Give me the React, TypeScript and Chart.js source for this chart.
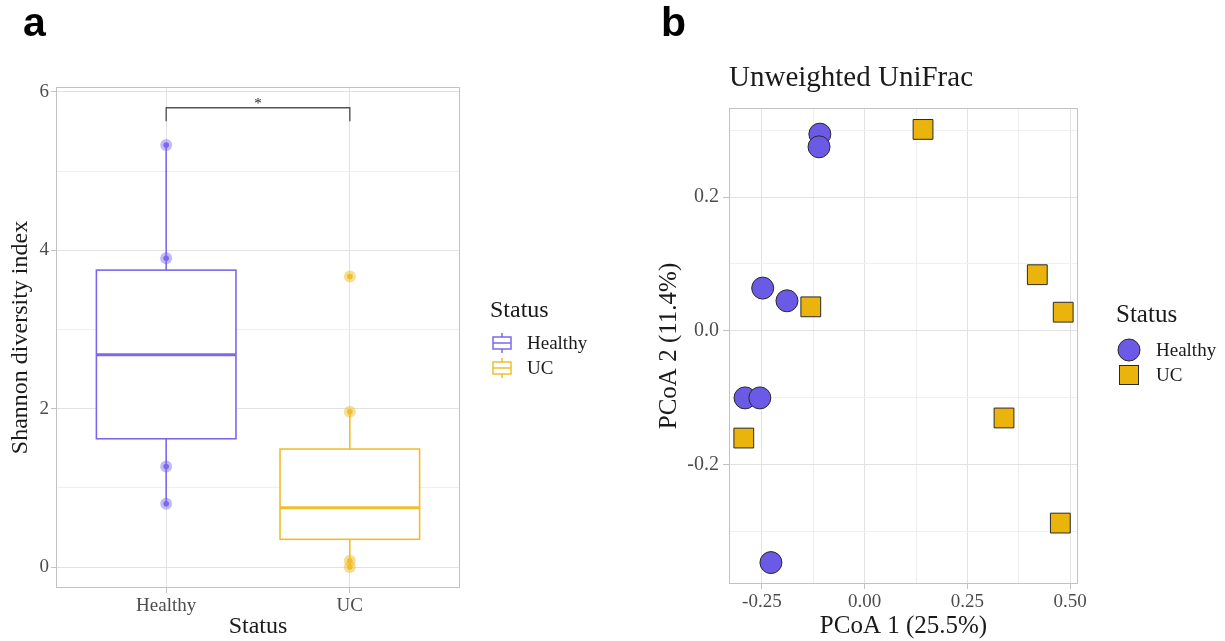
import React, { useEffect, useRef } from 'react';
import { Chart, registerables } from 'chart.js';

Chart.register(...registerables);

const SERIF = "'Liberation Serif', 'Times New Roman', serif";
const SANS = "'Liberation Sans', Arial, sans-serif";

// Panel a: Shannon diversity per group
const groups = ['Healthy', 'UC'];
const healthyShannon = [5.33, 3.9, 1.27, 0.8];
const ucShannon = [3.67, 1.96, 0.08, 0.0];
const whiskerLow = [0.8, 0.0];
const quartile1 = [1.62, 0.35];
const medians = [2.68, 0.75];
const quartile3 = [3.75, 1.49];
const whiskerHigh = [5.33, 1.96];
const shannonTicks = [0, 1, 2, 3, 4, 5, 6];
const bracketLevel = [5.8];
const bracketFoot = [5.63];
const significance = ['*'];

// Panel b: PCoA ordination (unweighted UniFrac)
const healthyPc1 = [-0.109, -0.111, -0.248, -0.189, -0.291, -0.255, -0.228];
const healthyPc2 = [0.294, 0.275, 0.064, 0.045, -0.1, -0.1, -0.346];
const ucPc1 = [0.142, 0.42, 0.483, -0.131, -0.294, 0.339, 0.476];
const ucPc2 = [0.301, 0.084, 0.028, 0.036, -0.16, -0.13, -0.287];
const pc1Ticks = [-0.25, -0.125, 0, 0.125, 0.25, 0.375, 0.5];
const pc2Ticks = [-0.3, -0.2, -0.1, 0, 0.1, 0.2, 0.3];

const boxColors = ['#7B68EE', '#F0BE2C'];
const haloColors = ['rgba(123,104,238,0.45)', 'rgba(240,190,44,0.5)'];
const fillColors = ['#6A5AE6', '#EBB40C'];
const GRID_MAJOR = '#e2e2e2';
const GRID_MINOR = '#efefef';
const BORDER = '#c2c2c2';
const TICK_TEXT = '#4d4d4d';

const isMajorEven = (v: number) => Math.abs(v % 2) < 1e-9;
const isMajorQuarter = (v: number) => Math.abs(v * 4 - Math.round(v * 4)) < 1e-6;
const isMajorFifth = (v: number) => Math.abs(v * 5 - Math.round(v * 5)) < 1e-6;

function drawBorder(chart: any) {
  const { ctx, chartArea: a } = chart;
  ctx.save();
  ctx.strokeStyle = BORDER;
  ctx.lineWidth = 1;
  ctx.strokeRect(a.left + 0.5, a.top + 0.5, a.right - a.left - 1, a.bottom - a.top - 1);
  ctx.restore();
}

function drawPanelLetter(ctx: CanvasRenderingContext2D, letter: string, x: number) {
  ctx.save();
  ctx.font = `bold 41px ${SANS}`;
  ctx.fillStyle = '#000000';
  ctx.textAlign = 'left';
  ctx.textBaseline = 'alphabetic';
  ctx.fillText(letter, x, 36);
  ctx.restore();
}

const boxPlugin = {
  id: 'shannonBoxes',
  beforeDatasetsDraw(chart: any) {
    const { ctx } = chart;
    const x = chart.scales.x;
    const y = chart.scales.y;
    const boxWidth = 0.76;
    groups.forEach((_, i) => {
      const cx = x.getPixelForValue(i + 1);
      const half = x.getPixelForValue(i + 1 + boxWidth / 2) - cx;
      const yq1 = y.getPixelForValue(quartile1[i]);
      const yq3 = y.getPixelForValue(quartile3[i]);
      ctx.save();
      ctx.strokeStyle = boxColors[i];
      ctx.lineWidth = 1.6;
      ctx.beginPath();
      ctx.moveTo(cx, yq3);
      ctx.lineTo(cx, y.getPixelForValue(whiskerHigh[i]));
      ctx.moveTo(cx, yq1);
      ctx.lineTo(cx, y.getPixelForValue(whiskerLow[i]));
      ctx.stroke();
      ctx.fillStyle = '#ffffff';
      ctx.fillRect(cx - half, yq3, 2 * half, yq1 - yq3);
      ctx.strokeRect(cx - half, yq3, 2 * half, yq1 - yq3);
      ctx.lineWidth = 3;
      const ym = y.getPixelForValue(medians[i]);
      ctx.beginPath();
      ctx.moveTo(cx - half, ym);
      ctx.lineTo(cx + half, ym);
      ctx.stroke();
      ctx.restore();
    });
  },
  afterDraw(chart: any) {
    const { ctx } = chart;
    const x = chart.scales.x;
    const y = chart.scales.y;
    drawBorder(chart);

    // significance bracket
    const x1 = x.getPixelForValue(1);
    const x2 = x.getPixelForValue(2);
    const yb = y.getPixelForValue(bracketLevel[0]);
    const yf = y.getPixelForValue(bracketFoot[0]);
    ctx.save();
    ctx.strokeStyle = '#555555';
    ctx.lineWidth = 1.4;
    ctx.beginPath();
    ctx.moveTo(x1, yf);
    ctx.lineTo(x1, yb);
    ctx.lineTo(x2, yb);
    ctx.lineTo(x2, yf);
    ctx.stroke();
    ctx.fillStyle = '#222222';
    ctx.font = `15px ${SERIF}`;
    ctx.textAlign = 'center';
    ctx.textBaseline = 'middle';
    ctx.fillText(significance[0], (x1 + x2) / 2, yb - 4);

    // legend
    ctx.textAlign = 'left';
    ctx.fillStyle = '#1a1a1a';
    ctx.font = `24px ${SERIF}`;
    ctx.fillText('Status', 490, 311);
    ctx.font = `19px ${SERIF}`;
    groups.forEach((g, i) => {
      const cy = 343 + i * 25;
      const cx = 502;
      ctx.strokeStyle = boxColors[i];
      ctx.lineWidth = 1.5;
      ctx.strokeRect(cx - 9, cy - 6, 18, 12);
      ctx.beginPath();
      ctx.moveTo(cx - 9, cy);
      ctx.lineTo(cx + 9, cy);
      ctx.moveTo(cx, cy - 10);
      ctx.lineTo(cx, cy - 6);
      ctx.moveTo(cx, cy + 6);
      ctx.lineTo(cx, cy + 10);
      ctx.stroke();
      ctx.fillStyle = '#1a1a1a';
      ctx.fillText(g, 527, cy + 1);
    });
    ctx.restore();

    drawPanelLetter(ctx, 'a', 23);
  },
};

const pcoaPlugin = {
  id: 'pcoaDecor',
  afterDraw(chart: any) {
    const { ctx } = chart;
    drawBorder(chart);
    ctx.save();
    ctx.fillStyle = '#1a1a1a';
    ctx.textBaseline = 'middle';
    ctx.textAlign = 'left';
    ctx.font = `29px ${SERIF}`;
    ctx.fillText('Unweighted UniFrac', chart.chartArea.left, 78);

    // legend
    const lx = 1129 - 612;
    ctx.font = `25px ${SERIF}`;
    ctx.fillText('Status', 1116 - 612, 315);
    ctx.strokeStyle = '#2a2a2a';
    ctx.lineWidth = 1;
    ctx.fillStyle = fillColors[0];
    ctx.beginPath();
    ctx.arc(lx, 350, 11, 0, Math.PI * 2);
    ctx.fill();
    ctx.stroke();
    ctx.fillStyle = fillColors[1];
    ctx.fillRect(lx - 10, 365, 20, 20);
    ctx.strokeRect(lx - 10 + 0.5, 365 + 0.5, 19, 19);
    ctx.fillStyle = '#1a1a1a';
    ctx.font = `19px ${SERIF}`;
    ctx.fillText('Healthy', 1156 - 612, 351);
    ctx.fillText('UC', 1156 - 612, 376);
    ctx.restore();

    drawPanelLetter(ctx, 'b', 661 - 612);
  },
};

export default function App() {
  const refA = useRef<HTMLCanvasElement>(null);
  const refB = useRef<HTMLCanvasElement>(null);

  useEffect(() => {
    const tickFont = { family: SERIF, size: 19 };
    const titleFont = { family: SERIF, size: 24 };

    const chartA = new Chart(refA.current as HTMLCanvasElement, {
      type: 'scatter',
      data: {
        datasets: [
          { data: healthyShannon.map((v) => ({ x: 1, y: v })), pointRadius: 6, pointBackgroundColor: haloColors[0], pointBorderWidth: 0 },
          { data: healthyShannon.map((v) => ({ x: 1, y: v })), pointRadius: 2.8, pointBackgroundColor: boxColors[0], pointBorderWidth: 0 },
          { data: ucShannon.map((v) => ({ x: 2, y: v })), pointRadius: 6, pointBackgroundColor: haloColors[1], pointBorderWidth: 0 },
          { data: ucShannon.map((v) => ({ x: 2, y: v })), pointRadius: 2.8, pointBackgroundColor: boxColors[1], pointBorderWidth: 0 },
        ],
      },
      options: {
        responsive: false,
        animation: false,
        layout: { padding: { top: 87, right: 152, left: 0, bottom: 0 } },
        plugins: { legend: { display: false }, tooltip: { enabled: false } },
        scales: {
          x: {
            type: 'linear',
            min: 0.4,
            max: 2.6,
            afterBuildTicks: (s: any) => { s.ticks = [{ value: 1 }, { value: 2 }]; },
            afterFit: (s: any) => { s.height = 53; },
            ticks: { callback: (v: any) => groups[Math.round(v) - 1], font: tickFont, color: TICK_TEXT, padding: 2, maxRotation: 0 },
            grid: { color: GRID_MAJOR, tickLength: 5, tickColor: BORDER },
            border: { display: false },
            title: { display: true, text: 'Status', font: titleFont, color: '#1a1a1a', padding: { top: 0, bottom: 0 } },
          },
          y: {
            type: 'linear',
            min: -0.265,
            max: 6.063,
            afterBuildTicks: (s: any) => { s.ticks = shannonTicks.map((v) => ({ value: v })); },
            afterFit: (s: any) => { s.width = 56; },
            ticks: { callback: (v: any) => (isMajorEven(v) ? String(v) : ''), font: tickFont, color: TICK_TEXT, padding: 2 },
            grid: {
              color: (c: any) => (isMajorEven(c.tick.value) ? GRID_MAJOR : GRID_MINOR),
              tickLength: 5,
              tickColor: (c: any) => (isMajorEven(c.tick.value) ? BORDER : 'rgba(0,0,0,0)'),
            },
            border: { display: false },
            title: { display: true, text: 'Shannon diversity index', font: titleFont, color: '#1a1a1a', padding: { top: 6, bottom: 0 } },
          },
        },
      },
      plugins: [boxPlugin],
    } as any);

    const chartB = new Chart(refB.current as HTMLCanvasElement, {
      type: 'scatter',
      data: {
        datasets: [
          {
            label: 'Healthy',
            data: healthyPc1.map((v, i) => ({ x: v, y: healthyPc2[i] })),
            pointStyle: 'circle',
            pointRadius: 11,
            pointBackgroundColor: fillColors[0],
            pointBorderColor: '#2a2a2a',
            pointBorderWidth: 1,
          },
          {
            label: 'UC',
            data: ucPc1.map((v, i) => ({ x: v, y: ucPc2[i] })),
            pointStyle: 'rect',
            pointRadius: 14,
            pointBackgroundColor: fillColors[1],
            pointBorderColor: '#2a2a2a',
            pointBorderWidth: 1,
          },
        ],
      },
      options: {
        responsive: false,
        animation: false,
        layout: { padding: { top: 108, right: 147, left: 40, bottom: 0 } },
        plugins: { legend: { display: false }, tooltip: { enabled: false } },
        scales: {
          x: {
            type: 'linear',
            min: -0.33,
            max: 0.519,
            afterBuildTicks: (s: any) => { s.ticks = pc1Ticks.map((v) => ({ value: v })); },
            afterFit: (s: any) => { s.height = 57; },
            ticks: { callback: (v: any) => (isMajorQuarter(v) ? v.toFixed(2) : ''), font: tickFont, color: TICK_TEXT, padding: 2, maxRotation: 0 },
            grid: {
              color: (c: any) => (isMajorQuarter(c.tick.value) ? GRID_MAJOR : GRID_MINOR),
              tickLength: 5,
              tickColor: (c: any) => (isMajorQuarter(c.tick.value) ? BORDER : 'rgba(0,0,0,0)'),
            },
            border: { display: false },
            title: { display: true, text: 'PCoA 1 (25.5%)', font: { family: SERIF, size: 25 }, color: '#1a1a1a', padding: { top: 0, bottom: 0 } },
          },
          y: {
            type: 'linear',
            min: -0.378,
            max: 0.333,
            afterBuildTicks: (s: any) => { s.ticks = pc2Ticks.map((v) => ({ value: v })); },
            afterFit: (s: any) => { s.width = 77; },
            ticks: { callback: (v: any) => (isMajorFifth(v) ? v.toFixed(1) : ''), font: { family: SERIF, size: 20 }, color: TICK_TEXT, padding: 4 },
            grid: {
              color: (c: any) => (isMajorFifth(c.tick.value) ? GRID_MAJOR : GRID_MINOR),
              tickLength: 6,
              tickColor: (c: any) => (isMajorFifth(c.tick.value) ? BORDER : 'rgba(0,0,0,0)'),
            },
            border: { display: false },
            title: { display: true, text: 'PCoA 2 (11.4%)', font: { family: SERIF, size: 25 }, color: '#1a1a1a', padding: { top: 2, bottom: 0 } },
          },
        },
      },
      plugins: [pcoaPlugin],
    } as any);

    return () => {
      chartA.destroy();
      chartB.destroy();
    };
  }, []);

  return (
    <div style={{ position: 'absolute', left: 0, top: 0, width: 1225, height: 641, background: '#ffffff', overflow: 'hidden' }}>
      <canvas ref={refA} width={612} height={641} style={{ position: 'absolute', left: 0, top: 0, width: 612, height: 641 }} />
      <canvas ref={refB} width={613} height={641} style={{ position: 'absolute', left: 612, top: 0, width: 613, height: 641 }} />
    </div>
  );
}
